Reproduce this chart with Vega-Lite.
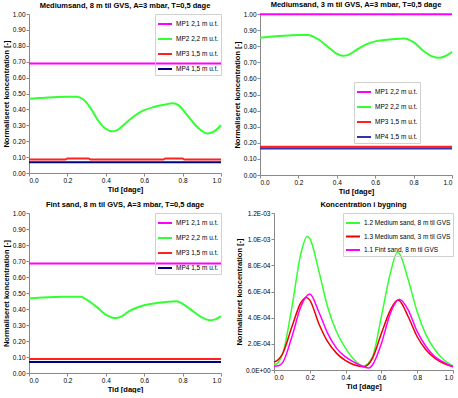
{
  "$schema": "https://vega.github.io/schema/vega-lite/v6.json",
  "padding": {"left": 2, "top": 0, "right": 0, "bottom": 0},
  "background": "white",
  "config": {
    "font": "Liberation Sans",
    "view": {"stroke": null},
    "axis": {"grid": false, "domainColor": "#888888", "tickColor": "#888888", "tickSize": 3, "labelFont": "Liberation Sans", "labelFontSize": 6.5, "labelColor": "#000000", "titleFont": "Liberation Sans", "titleFontSize": 7.5, "titleColor": "#000000", "titleFontWeight": "bold", "labelPadding": 1, "titlePadding": 2},
    "title": {"font": "Liberation Sans", "fontSize": 7.5, "fontWeight": "bold", "color": "#000000", "offset": 2},
    "legend": {"labelFont": "Liberation Sans", "labelFontSize": 6.5, "labelColor": "#000000", "symbolType": "stroke", "symbolSize": 196, "symbolStrokeWidth": 2, "rowPadding": 3, "padding": 2, "strokeColor": "#d0d0d0", "offset": 0, "labelOffset": 3}
  },
  "datasets": {
    "p1": [
      {"s": "MP1 2,1 m u.t.", "t": 0, "c": 0.688}, {"s": "MP1 2,1 m u.t.", "t": 1, "c": 0.688},
      {"s": "MP2 2,2 m u.t.", "t": 0, "c": 0.467}, {"s": "MP2 2,2 m u.t.", "t": 0.05, "c": 0.471}, {"s": "MP2 2,2 m u.t.", "t": 0.1, "c": 0.475}, {"s": "MP2 2,2 m u.t.", "t": 0.15, "c": 0.478}, {"s": "MP2 2,2 m u.t.", "t": 0.2, "c": 0.48}, {"s": "MP2 2,2 m u.t.", "t": 0.25, "c": 0.48}, {"s": "MP2 2,2 m u.t.", "t": 0.28, "c": 0.465}, {"s": "MP2 2,2 m u.t.", "t": 0.32, "c": 0.41}, {"s": "MP2 2,2 m u.t.", "t": 0.36, "c": 0.33}, {"s": "MP2 2,2 m u.t.", "t": 0.4, "c": 0.278}, {"s": "MP2 2,2 m u.t.", "t": 0.43, "c": 0.262}, {"s": "MP2 2,2 m u.t.", "t": 0.46, "c": 0.27}, {"s": "MP2 2,2 m u.t.", "t": 0.5, "c": 0.31}, {"s": "MP2 2,2 m u.t.", "t": 0.55, "c": 0.36}, {"s": "MP2 2,2 m u.t.", "t": 0.6, "c": 0.395}, {"s": "MP2 2,2 m u.t.", "t": 0.65, "c": 0.415}, {"s": "MP2 2,2 m u.t.", "t": 0.7, "c": 0.428}, {"s": "MP2 2,2 m u.t.", "t": 0.75, "c": 0.438}, {"s": "MP2 2,2 m u.t.", "t": 0.78, "c": 0.425}, {"s": "MP2 2,2 m u.t.", "t": 0.82, "c": 0.37}, {"s": "MP2 2,2 m u.t.", "t": 0.86, "c": 0.31}, {"s": "MP2 2,2 m u.t.", "t": 0.9, "c": 0.265}, {"s": "MP2 2,2 m u.t.", "t": 0.93, "c": 0.248}, {"s": "MP2 2,2 m u.t.", "t": 0.96, "c": 0.258}, {"s": "MP2 2,2 m u.t.", "t": 1, "c": 0.3},
      {"s": "MP3 1,5 m u.t.", "t": 0, "c": 0.085}, {"s": "MP3 1,5 m u.t.", "t": 0.19, "c": 0.085}, {"s": "MP3 1,5 m u.t.", "t": 0.2, "c": 0.091}, {"s": "MP3 1,5 m u.t.", "t": 0.31, "c": 0.091}, {"s": "MP3 1,5 m u.t.", "t": 0.32, "c": 0.085}, {"s": "MP3 1,5 m u.t.", "t": 0.7, "c": 0.085}, {"s": "MP3 1,5 m u.t.", "t": 0.71, "c": 0.091}, {"s": "MP3 1,5 m u.t.", "t": 0.8, "c": 0.091}, {"s": "MP3 1,5 m u.t.", "t": 0.81, "c": 0.085}, {"s": "MP3 1,5 m u.t.", "t": 1, "c": 0.085},
      {"s": "MP4 1,5 m u.t.", "t": 0, "c": 0.067}, {"s": "MP4 1,5 m u.t.", "t": 1, "c": 0.067}
    ],
    "p2": [
      {"s": "MP1 2,2 m u.t.", "t": 0, "c": 0.998}, {"s": "MP1 2,2 m u.t.", "t": 1, "c": 0.998},
      {"s": "MP2 2,2 m u.t.", "t": 0, "c": 0.852}, {"s": "MP2 2,2 m u.t.", "t": 0.05, "c": 0.858}, {"s": "MP2 2,2 m u.t.", "t": 0.1, "c": 0.863}, {"s": "MP2 2,2 m u.t.", "t": 0.15, "c": 0.867}, {"s": "MP2 2,2 m u.t.", "t": 0.2, "c": 0.87}, {"s": "MP2 2,2 m u.t.", "t": 0.25, "c": 0.869}, {"s": "MP2 2,2 m u.t.", "t": 0.3, "c": 0.845}, {"s": "MP2 2,2 m u.t.", "t": 0.35, "c": 0.8}, {"s": "MP2 2,2 m u.t.", "t": 0.4, "c": 0.753}, {"s": "MP2 2,2 m u.t.", "t": 0.43, "c": 0.74}, {"s": "MP2 2,2 m u.t.", "t": 0.46, "c": 0.746}, {"s": "MP2 2,2 m u.t.", "t": 0.5, "c": 0.775}, {"s": "MP2 2,2 m u.t.", "t": 0.55, "c": 0.81}, {"s": "MP2 2,2 m u.t.", "t": 0.6, "c": 0.83}, {"s": "MP2 2,2 m u.t.", "t": 0.65, "c": 0.838}, {"s": "MP2 2,2 m u.t.", "t": 0.7, "c": 0.844}, {"s": "MP2 2,2 m u.t.", "t": 0.75, "c": 0.848}, {"s": "MP2 2,2 m u.t.", "t": 0.8, "c": 0.825}, {"s": "MP2 2,2 m u.t.", "t": 0.85, "c": 0.772}, {"s": "MP2 2,2 m u.t.", "t": 0.9, "c": 0.735}, {"s": "MP2 2,2 m u.t.", "t": 0.93, "c": 0.728}, {"s": "MP2 2,2 m u.t.", "t": 0.96, "c": 0.736}, {"s": "MP2 2,2 m u.t.", "t": 1, "c": 0.765},
      {"s": "MP3 1,5 m u.t.", "t": 0, "c": 0.176}, {"s": "MP3 1,5 m u.t.", "t": 1, "c": 0.176},
      {"s": "MP4 1,5 m u.t.", "t": 0, "c": 0.164}, {"s": "MP4 1,5 m u.t.", "t": 1, "c": 0.164}
    ],
    "p3": [
      {"s": "MP1 2,1 m u.t.", "t": 0, "c": 0.684}, {"s": "MP1 2,1 m u.t.", "t": 1, "c": 0.684},
      {"s": "MP2 2,2 m u.t.", "t": 0, "c": 0.465}, {"s": "MP2 2,2 m u.t.", "t": 0.05, "c": 0.47}, {"s": "MP2 2,2 m u.t.", "t": 0.1, "c": 0.473}, {"s": "MP2 2,2 m u.t.", "t": 0.15, "c": 0.475}, {"s": "MP2 2,2 m u.t.", "t": 0.2, "c": 0.477}, {"s": "MP2 2,2 m u.t.", "t": 0.27, "c": 0.476}, {"s": "MP2 2,2 m u.t.", "t": 0.3, "c": 0.458}, {"s": "MP2 2,2 m u.t.", "t": 0.35, "c": 0.415}, {"s": "MP2 2,2 m u.t.", "t": 0.4, "c": 0.365}, {"s": "MP2 2,2 m u.t.", "t": 0.45, "c": 0.343}, {"s": "MP2 2,2 m u.t.", "t": 0.48, "c": 0.352}, {"s": "MP2 2,2 m u.t.", "t": 0.52, "c": 0.385}, {"s": "MP2 2,2 m u.t.", "t": 0.56, "c": 0.408}, {"s": "MP2 2,2 m u.t.", "t": 0.6, "c": 0.423}, {"s": "MP2 2,2 m u.t.", "t": 0.65, "c": 0.434}, {"s": "MP2 2,2 m u.t.", "t": 0.7, "c": 0.442}, {"s": "MP2 2,2 m u.t.", "t": 0.77, "c": 0.449}, {"s": "MP2 2,2 m u.t.", "t": 0.8, "c": 0.432}, {"s": "MP2 2,2 m u.t.", "t": 0.85, "c": 0.39}, {"s": "MP2 2,2 m u.t.", "t": 0.9, "c": 0.348}, {"s": "MP2 2,2 m u.t.", "t": 0.94, "c": 0.329}, {"s": "MP2 2,2 m u.t.", "t": 0.97, "c": 0.335}, {"s": "MP2 2,2 m u.t.", "t": 1, "c": 0.355},
      {"s": "MP3 1,5 m u.t.", "t": 0, "c": 0.088}, {"s": "MP3 1,5 m u.t.", "t": 1, "c": 0.088},
      {"s": "MP4 1,5 m u.t.", "t": 0, "c": 0.068}, {"s": "MP4 1,5 m u.t.", "t": 1, "c": 0.068}
    ],
    "p4": [
      {"s": "1.2 Medium sand, 8 m til GVS", "t": 0, "c": 0.00004}, {"s": "1.2 Medium sand, 8 m til GVS", "t": 0.025, "c": 0.00006}, {"s": "1.2 Medium sand, 8 m til GVS", "t": 0.05, "c": 0.00013}, {"s": "1.2 Medium sand, 8 m til GVS", "t": 0.1, "c": 0.00048}, {"s": "1.2 Medium sand, 8 m til GVS", "t": 0.15, "c": 0.00089}, {"s": "1.2 Medium sand, 8 m til GVS", "t": 0.185, "c": 0.00102}, {"s": "1.2 Medium sand, 8 m til GVS", "t": 0.2, "c": 0.001005}, {"s": "1.2 Medium sand, 8 m til GVS", "t": 0.25, "c": 0.00076}, {"s": "1.2 Medium sand, 8 m til GVS", "t": 0.3, "c": 0.00048}, {"s": "1.2 Medium sand, 8 m til GVS", "t": 0.35, "c": 0.00029}, {"s": "1.2 Medium sand, 8 m til GVS", "t": 0.4, "c": 0.000165}, {"s": "1.2 Medium sand, 8 m til GVS", "t": 0.45, "c": 0.000076}, {"s": "1.2 Medium sand, 8 m til GVS", "t": 0.5, "c": 0.00003}, {"s": "1.2 Medium sand, 8 m til GVS", "t": 0.55, "c": 0.0001}, {"s": "1.2 Medium sand, 8 m til GVS", "t": 0.6, "c": 0.00041}, {"s": "1.2 Medium sand, 8 m til GVS", "t": 0.65, "c": 0.00074}, {"s": "1.2 Medium sand, 8 m til GVS", "t": 0.69, "c": 0.0009}, {"s": "1.2 Medium sand, 8 m til GVS", "t": 0.7, "c": 0.00089}, {"s": "1.2 Medium sand, 8 m til GVS", "t": 0.75, "c": 0.00069}, {"s": "1.2 Medium sand, 8 m til GVS", "t": 0.8, "c": 0.000445}, {"s": "1.2 Medium sand, 8 m til GVS", "t": 0.85, "c": 0.000267}, {"s": "1.2 Medium sand, 8 m til GVS", "t": 0.9, "c": 0.000153}, {"s": "1.2 Medium sand, 8 m til GVS", "t": 0.95, "c": 0.000076}, {"s": "1.2 Medium sand, 8 m til GVS", "t": 1, "c": 0.00003},
      {"s": "1.3 Medium sand, 3 m til GVS", "t": 0, "c": 0.00006}, {"s": "1.3 Medium sand, 3 m til GVS", "t": 0.025, "c": 0.00008}, {"s": "1.3 Medium sand, 3 m til GVS", "t": 0.05, "c": 0.00013}, {"s": "1.3 Medium sand, 3 m til GVS", "t": 0.1, "c": 0.00033}, {"s": "1.3 Medium sand, 3 m til GVS", "t": 0.15, "c": 0.000514}, {"s": "1.3 Medium sand, 3 m til GVS", "t": 0.18, "c": 0.000555}, {"s": "1.3 Medium sand, 3 m til GVS", "t": 0.2, "c": 0.000534}, {"s": "1.3 Medium sand, 3 m til GVS", "t": 0.25, "c": 0.000356}, {"s": "1.3 Medium sand, 3 m til GVS", "t": 0.3, "c": 0.000216}, {"s": "1.3 Medium sand, 3 m til GVS", "t": 0.35, "c": 0.000127}, {"s": "1.3 Medium sand, 3 m til GVS", "t": 0.4, "c": 0.000071}, {"s": "1.3 Medium sand, 3 m til GVS", "t": 0.45, "c": 0.000038}, {"s": "1.3 Medium sand, 3 m til GVS", "t": 0.5, "c": 0.000025}, {"s": "1.3 Medium sand, 3 m til GVS", "t": 0.55, "c": 0.000089}, {"s": "1.3 Medium sand, 3 m til GVS", "t": 0.6, "c": 0.00028}, {"s": "1.3 Medium sand, 3 m til GVS", "t": 0.65, "c": 0.000458}, {"s": "1.3 Medium sand, 3 m til GVS", "t": 0.69, "c": 0.000534}, {"s": "1.3 Medium sand, 3 m til GVS", "t": 0.7, "c": 0.00053}, {"s": "1.3 Medium sand, 3 m til GVS", "t": 0.75, "c": 0.000407}, {"s": "1.3 Medium sand, 3 m til GVS", "t": 0.8, "c": 0.000254}, {"s": "1.3 Medium sand, 3 m til GVS", "t": 0.85, "c": 0.000153}, {"s": "1.3 Medium sand, 3 m til GVS", "t": 0.9, "c": 0.000089}, {"s": "1.3 Medium sand, 3 m til GVS", "t": 0.95, "c": 0.00005}, {"s": "1.3 Medium sand, 3 m til GVS", "t": 1, "c": 0.000025},
      {"s": "1.1 Fint sand, 8 m til GVS", "t": 0, "c": 0.000028}, {"s": "1.1 Fint sand, 8 m til GVS", "t": 0.025, "c": 0.000032}, {"s": "1.1 Fint sand, 8 m til GVS", "t": 0.05, "c": 0.00006}, {"s": "1.1 Fint sand, 8 m til GVS", "t": 0.1, "c": 0.000254}, {"s": "1.1 Fint sand, 8 m til GVS", "t": 0.15, "c": 0.000483}, {"s": "1.1 Fint sand, 8 m til GVS", "t": 0.2, "c": 0.00058}, {"s": "1.1 Fint sand, 8 m til GVS", "t": 0.25, "c": 0.000445}, {"s": "1.1 Fint sand, 8 m til GVS", "t": 0.3, "c": 0.00028}, {"s": "1.1 Fint sand, 8 m til GVS", "t": 0.35, "c": 0.000165}, {"s": "1.1 Fint sand, 8 m til GVS", "t": 0.4, "c": 0.0001}, {"s": "1.1 Fint sand, 8 m til GVS", "t": 0.45, "c": 0.000058}, {"s": "1.1 Fint sand, 8 m til GVS", "t": 0.5, "c": 0.000025}, {"s": "1.1 Fint sand, 8 m til GVS", "t": 0.53, "c": 0.000015}, {"s": "1.1 Fint sand, 8 m til GVS", "t": 0.55, "c": 0.000038}, {"s": "1.1 Fint sand, 8 m til GVS", "t": 0.6, "c": 0.000203}, {"s": "1.1 Fint sand, 8 m til GVS", "t": 0.65, "c": 0.000433}, {"s": "1.1 Fint sand, 8 m til GVS", "t": 0.7, "c": 0.00054}, {"s": "1.1 Fint sand, 8 m til GVS", "t": 0.75, "c": 0.000458}, {"s": "1.1 Fint sand, 8 m til GVS", "t": 0.8, "c": 0.000293}, {"s": "1.1 Fint sand, 8 m til GVS", "t": 0.85, "c": 0.000178}, {"s": "1.1 Fint sand, 8 m til GVS", "t": 0.9, "c": 0.0001}, {"s": "1.1 Fint sand, 8 m til GVS", "t": 0.95, "c": 0.000058}, {"s": "1.1 Fint sand, 8 m til GVS", "t": 1, "c": 0.000025}
    ]
  },
  "resolve": {"scale": {"color": "independent"}, "legend": {"color": "independent"}},
  "spacing": 5,
  "vconcat": [
    {
      "spacing": 8,
      "resolve": {"scale": {"color": "independent"}, "legend": {"color": "independent"}},
      "hconcat": [
        {
          "title": "Mediumsand, 8 m til GVS, A=3 mbar, T=0,5 dage",
          "width": 192, "height": 159,
          "data": {"name": "p1"},
          "mark": {"type": "line", "strokeWidth": 2, "interpolate": "monotone"},
          "encoding": {
            "x": {"field": "t", "type": "quantitative", "scale": {"domain": [0, 1]}, "axis": {"title": "Tid [dage]", "values": [0, 0.2, 0.4, 0.6, 0.8, 1], "format": ".1f"}},
            "y": {"field": "c", "type": "quantitative", "scale": {"domain": [0, 1]}, "axis": {"title": "Normaliseret koncentration [-]", "values": [0, 0.1, 0.2, 0.3, 0.4, 0.5, 0.6, 0.7, 0.8, 0.9, 1], "format": ".2f"}},
            "color": {"field": "s", "type": "nominal", "scale": {"domain": ["MP1 2,1 m u.t.", "MP2 2,2 m u.t.", "MP3 1,5 m u.t.", "MP4 1,5 m u.t."], "range": ["#ff00ff", "#33ff33", "#ff2020", "#000080"]}, "legend": {"title": null, "orient": "top-right"}}
          }
        },
        {
          "title": "Mediumsand, 3 m til GVS, A=3 mbar, T=0,5 dage",
          "width": 192, "height": 161,
          "data": {"name": "p2"},
          "mark": {"type": "line", "strokeWidth": 2, "interpolate": "monotone"},
          "encoding": {
            "x": {"field": "t", "type": "quantitative", "scale": {"domain": [0, 1]}, "axis": {"title": "Tid [dage]", "values": [0, 0.2, 0.4, 0.6, 0.8, 1], "format": ".1f"}},
            "y": {"field": "c", "type": "quantitative", "scale": {"domain": [0, 1]}, "axis": {"title": "Normaliseret koncentration [-]", "values": [0, 0.1, 0.2, 0.3, 0.4, 0.5, 0.6, 0.7, 0.8, 0.9, 1], "format": ".2f"}},
            "color": {"field": "s", "type": "nominal", "scale": {"domain": ["MP1 2,2 m u.t.", "MP2 2,2 m u.t.", "MP3 1,5 m u.t.", "MP4 1,5 m u.t."], "range": ["#ff00ff", "#33ff33", "#ff2020", "#3333aa"]}, "legend": {"title": null, "orient": "bottom-right", "offset": 32}}
          }
        }
      ]
    },
    {
      "spacing": 10,
      "resolve": {"scale": {"color": "independent"}, "legend": {"color": "independent"}},
      "hconcat": [
        {
          "title": "Fint sand, 8 m til GVS, A=3 mbar, T=0,5 dage",
          "width": 192, "height": 160,
          "data": {"name": "p3"},
          "mark": {"type": "line", "strokeWidth": 2, "interpolate": "monotone"},
          "encoding": {
            "x": {"field": "t", "type": "quantitative", "scale": {"domain": [0, 1]}, "axis": {"title": "Tid [dage]", "values": [0, 0.2, 0.4, 0.6, 0.8, 1], "format": ".1f"}},
            "y": {"field": "c", "type": "quantitative", "scale": {"domain": [0, 1]}, "axis": {"title": "Normaliseret koncentration [-]", "values": [0, 0.1, 0.2, 0.3, 0.4, 0.5, 0.6, 0.7, 0.8, 0.9, 1], "format": ".2f"}},
            "color": {"field": "s", "type": "nominal", "scale": {"domain": ["MP1 2,1 m u.t.", "MP2 2,2 m u.t.", "MP3 1,5 m u.t.", "MP4 1,5 m u.t."], "range": ["#ff00ff", "#33ff33", "#ff2020", "#000080"]}, "legend": {"title": null, "orient": "top-right"}}
          }
        },
        {
          "title": "Koncentration i bygning",
          "width": 179, "height": 157,
          "data": {"name": "p4"},
          "mark": {"type": "line", "interpolate": "monotone"},
          "encoding": {
            "x": {"field": "t", "type": "quantitative", "scale": {"domain": [0, 1]}, "axis": {"title": "Tid [dage]", "values": [0, 0.2, 0.4, 0.6, 0.8, 1], "format": ".1f"}},
            "y": {"field": "c", "type": "quantitative", "scale": {"domain": [0, 0.0012]}, "axis": {"title": "Normaliseret koncentration [-]", "values": [0, 0.0002, 0.0004, 0.0006, 0.0008, 0.001, 0.0012], "labelExpr": "datum.value == 0 ? '0.0E+00' : replace(format(datum.value, '.1e'), 'e-', 'E-0')"}},
            "color": {"field": "s", "type": "nominal", "scale": {"domain": ["1.2 Medium sand, 8 m til GVS", "1.3 Medium sand, 3 m til GVS", "1.1 Fint sand, 8 m til GVS"], "range": ["#33ff33", "#ee0000", "#ff00ff"]}, "legend": {"title": null, "orient": "top-right", "rowPadding": 1.5}},
            "strokeWidth": {"field": "s", "type": "nominal", "scale": {"domain": ["1.2 Medium sand, 8 m til GVS", "1.3 Medium sand, 3 m til GVS", "1.1 Fint sand, 8 m til GVS"], "range": [1.5, 1.5, 3]}, "legend": null}
          }
        }
      ]
    }
  ]
}
